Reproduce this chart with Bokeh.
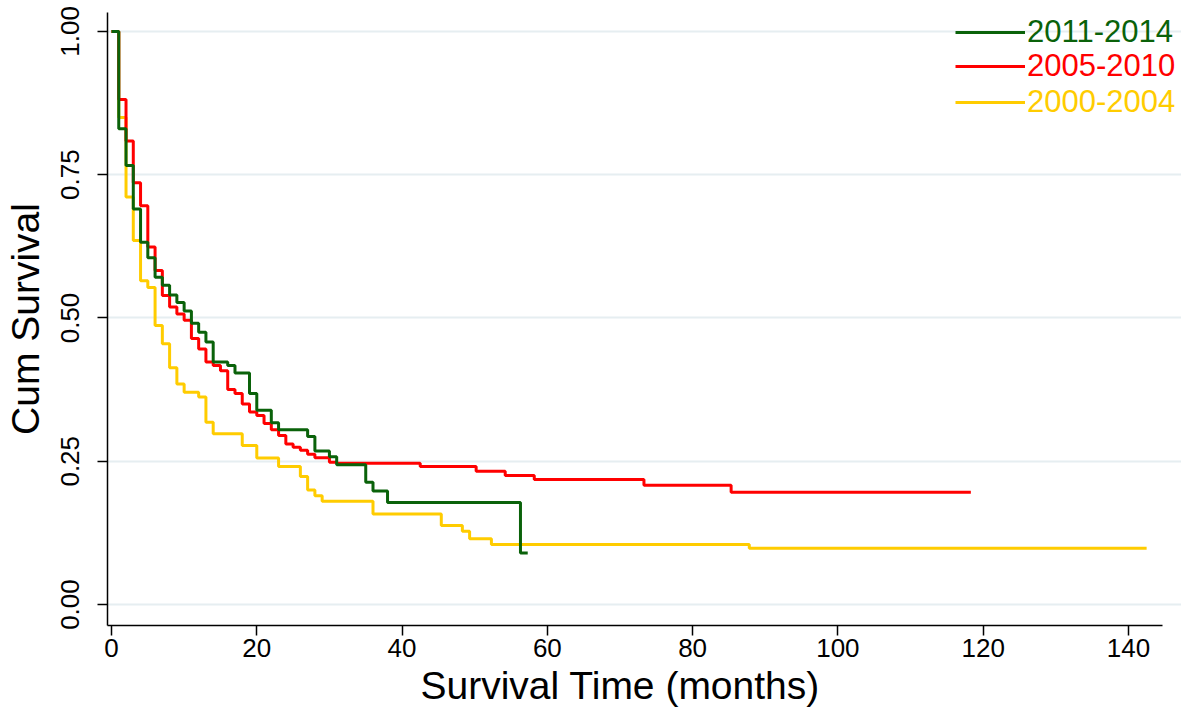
import math
from bokeh.plotting import figure
from bokeh.models import (Range1d, FixedTicker, Legend, LegendItem,
                          NumeralTickFormatter, Title)
from bokeh.embed import file_html
from bokeh.resources import INLINE

# ---- data ----
series_labels = ["2011-2014", "2005-2010", "2000-2004"]
series_colors = ["#0a620a", "#ff0000", "#ffcc00"]

green_t = [0, 1, 2, 3, 4, 5, 6, 7, 8, 9, 10, 11, 12, 13, 14, 16, 17, 19, 20, 22, 23,
           27, 28, 30, 31, 35, 36, 38, 56.3, 57.3]
green_s = [1.0, 0.830, 0.766, 0.690, 0.632, 0.605, 0.571, 0.557, 0.540, 0.527, 0.512,
           0.491, 0.475, 0.458, 0.423, 0.417, 0.404, 0.368, 0.339, 0.317, 0.305,
           0.293, 0.268, 0.258, 0.244, 0.2135, 0.198, 0.178, 0.090, 0.090]

red_t = [0, 1, 2, 3, 4, 5, 6, 7, 8, 9, 10, 11, 12, 13, 14, 15, 16, 17, 18, 19, 20,
         21, 22, 23, 24, 25, 26, 27, 28, 30, 31, 42.5, 50.2, 54.2, 58.2, 73.3, 85.3, 118.3]
red_s = [1.0, 0.881, 0.809, 0.736, 0.696, 0.624, 0.583, 0.539, 0.519, 0.507, 0.496,
         0.464, 0.446, 0.423, 0.417, 0.408, 0.375, 0.368, 0.350, 0.336, 0.330,
         0.316, 0.305, 0.295, 0.280, 0.2746, 0.269, 0.262, 0.256, 0.2484, 0.2466,
         0.241, 0.2327, 0.225, 0.218, 0.208, 0.196, 0.196]

yellow_t = [0, 1, 2, 3, 4, 5, 6, 7, 8, 9, 10, 12, 13, 14, 18, 20, 23, 26, 27, 28, 29,
            36, 45.4, 48.3, 49.3, 52.3, 87.8, 142.5]
yellow_s = [1.0, 0.850, 0.711, 0.635, 0.565, 0.553, 0.487, 0.455, 0.413, 0.385, 0.3705,
            0.362, 0.318, 0.298, 0.2775, 0.2555, 0.241, 0.2234, 0.200, 0.190, 0.180,
            0.158, 0.138, 0.128, 0.1146, 0.1047, 0.098, 0.098]

x_ticks = [0, 20, 40, 60, 80, 100, 120, 140]
y_ticks = [0.0, 0.25, 0.50, 0.75, 1.00]

x_title = "Survival Time (months)"
y_title = "Cum Survival"

# ---- figure ----
x_lo, x_axis_hi, x_frame_hi = -0.55, 144.7, 147.3
p = figure(width=1181, height=715, output_backend="svg", toolbar_location=None,
           x_range=Range1d(x_lo, x_frame_hi), y_range=Range1d(-0.0366, 1.033),
           min_border_left=107, min_border_right=0, min_border_top=12,
           min_border_bottom=90)
p.outline_line_color = None
p.background_fill_color = "white"
p.border_fill_color = "white"

p.xgrid.visible = False
p.ygrid.grid_line_color = "#e6eef1"
p.ygrid.grid_line_width = 2
p.ygrid.bounds = (x_lo, x_axis_hi)

p.xaxis.ticker = FixedTicker(ticks=x_ticks)
p.xaxis.bounds = (x_lo, x_axis_hi)
p.yaxis.ticker = FixedTicker(ticks=y_ticks)
p.yaxis.formatter = NumeralTickFormatter(format="0.00")
p.yaxis.major_label_orientation = "parallel"
for ax in (p.xaxis[0], p.yaxis[0]):
    ax.axis_line_color = "black"
    ax.axis_line_width = 1.5
    ax.major_tick_line_color = "black"
    ax.major_tick_line_width = 1.5
    ax.major_tick_out = 10
    ax.major_tick_in = 0
    ax.minor_tick_line_color = None
    ax.major_label_text_font = "Liberation Sans"
    ax.major_label_text_font_size = "26px"
    ax.major_label_text_color = "black"
    ax.axis_label_text_font = "Liberation Sans"
    ax.axis_label_text_font_style = "normal"
    ax.axis_label_text_font_size = "39px"
    ax.axis_label_text_color = "black"
p.xaxis.major_label_standoff = 3
p.yaxis.major_label_standoff = 18
p.yaxis.axis_label_standoff = 12
p.yaxis.axis_label = y_title

p.add_layout(Title(text=x_title, align="left", offset=313, standoff=4,
                   text_font="Liberation Sans", text_font_style="normal",
                   text_font_size="39px", text_color="black"), "below")

renderers = []
for t, s, c in [(green_t, green_s, series_colors[0]),
                (red_t, red_s, series_colors[1]),
                (yellow_t, yellow_s, series_colors[2])]:
    r = p.step(t, s, mode="after", line_color=c, line_width=3)
    renderers.append(r)

# draw order: yellow at bottom, then red, green on top
p.renderers = [renderers[2], renderers[1], renderers[0]]

legend_y = [575, 541, 505]
for lab, col, r, ly in zip(series_labels, series_colors, renderers, legend_y):
    leg = Legend(items=[LegendItem(label=lab, renderers=[r])], location=(848, ly),
                 orientation="vertical", margin=0, padding=0, spacing=0,
                 border_line_color=None, background_fill_alpha=0,
                 glyph_width=70, glyph_height=30, label_height=30,
                 label_standoff=2, label_text_color=col,
                 label_text_font="Liberation Sans", label_text_font_size="31px")
    p.add_layout(leg, "center")

open("out.html", "w").write(file_html(p, INLINE))
